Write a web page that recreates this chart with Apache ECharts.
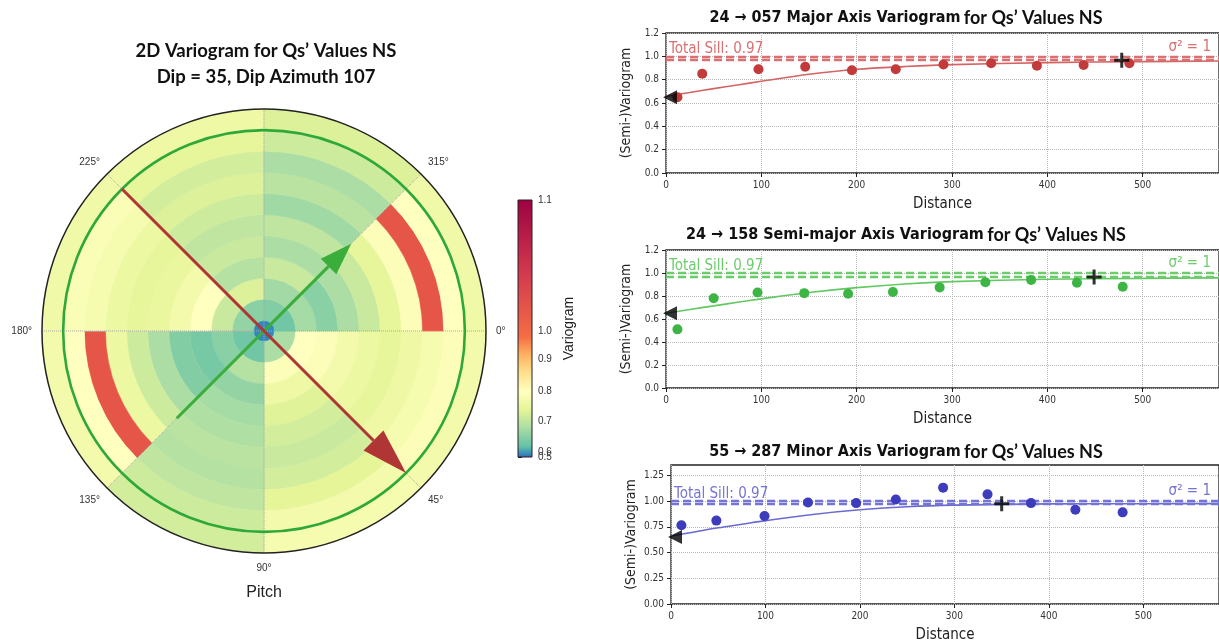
<!DOCTYPE html>
<html><head><meta charset="utf-8">
<script src="https://cdn.jsdelivr.net/npm/echarts@6/dist/echarts.min.js"></script>
<style>html,body{margin:0;padding:0;background:#fff}#c{width:1219px;height:644px}</style>
</head><body><div id="c"></div>
<script>
// ---------------- 2D variogram map (polar) ----------------
const sectorEdges = [0, 45, 90, 135, 180, 225, 270, 315, 360];
const lagEdges = [0, 24, 72, 120, 168, 216, 264, 312, 360, 408, 456, 504];
const gamma_000_045 = [0.56, 0.68, 0.80, 0.79, 0.77, 0.755, 0.745, 0.76, 0.775, 0.79, 0.77];
const gamma_045_090 = [0.56, 0.68, 0.79, 0.76, 0.735, 0.72, 0.71, 0.72, 0.74, 0.77, 0.775];
const gamma_090_135 = [0.56, 0.63, 0.69, 0.66, 0.675, 0.685, 0.695, 0.69, 0.70, 0.715, 0.72];
const gamma_135_180 = [0.56, 0.63, 0.65, 0.635, 0.645, 0.68, 0.715, 0.755, 1.01, 0.80, 0.77];
const gamma_180_225 = [0.56, 0.66, 0.71, 0.80, 0.77, 0.75, 0.745, 0.755, 0.775, 0.785, 0.765];
const gamma_225_270 = [0.56, 0.65, 0.73, 0.69, 0.71, 0.70, 0.715, 0.73, 0.72, 0.745, 0.76];
const gamma_270_315 = [0.56, 0.645, 0.672, 0.71, 0.68, 0.70, 0.67, 0.695, 0.68, 0.715, 0.73];
const gamma_315_360 = [0.56, 0.63, 0.675, 0.65, 0.68, 0.71, 0.745, 0.79, 1.01, 0.80, 0.765];
const angleLabelValues = [0, 45, 90, 135, 180, 225, 315];
const rangeCircle = 456;
const majorArrow = [456, 225, 456, 45];   // tail r, tail angle, head r, head angle
const semiArrow = [280, 135, 280, 315];

// colour bar
const spectralR = ['#5e4fa2','#3288bd','#66c2a5','#abdda4','#e6f598','#ffffbf','#fee08b','#fdae61','#f46d43','#d53e4f','#9e0142'];
const cbMin = 0.5, cbMax = 1.1;
const cbTickValues = [0.5, 0.6, 0.7, 0.8, 0.9, 1.0, 1.1];
const cbTickPos = [0, 0.02, 0.14, 0.255, 0.38, 0.49, 1.0];

// ---------------- directional variograms ----------------
const totalSill = 0.97;
const sigma2 = 1;
const nugget = 0.65;
const modelDist = [0, 25, 50, 75, 100, 150, 200, 250, 300, 400, 500, 580];

const majorLag   = [12, 38, 97, 146, 195, 241, 291, 341, 389, 438, 486];
const majorGamma = [0.65, 0.85, 0.89, 0.91, 0.88, 0.89, 0.93, 0.94, 0.92, 0.925, 0.94];
const majorModel = [0.655, 0.69, 0.723, 0.755, 0.786, 0.846, 0.889, 0.912, 0.929, 0.946, 0.955, 0.96];
const majorRange = [478, 0.966];

const semiLag   = [12, 50, 96, 145, 191, 238, 287, 335, 383, 431, 479];
const semiGamma = [0.51, 0.78, 0.83, 0.825, 0.82, 0.835, 0.875, 0.92, 0.94, 0.915, 0.88];
const semiModel = [0.65, 0.683, 0.714, 0.745, 0.775, 0.83, 0.873, 0.905, 0.925, 0.946, 0.953, 0.958];
const semiRange = [449, 0.965];

const minorLag   = [11, 48, 99, 145, 196, 238, 288, 335, 381, 428, 478];
const minorGamma = [0.765, 0.81, 0.855, 0.985, 0.98, 1.015, 1.13, 1.065, 0.98, 0.915, 0.89];
const minorModel = [0.66, 0.70, 0.74, 0.775, 0.81, 0.87, 0.915, 0.945, 0.96, 0.972, 0.974, 0.975];
const minorRange = [350, 0.974];

const xTickValues = [0, 100, 200, 300, 400, 500];
const yTicksA = [0, 0.2, 0.4, 0.6, 0.8, 1.0, 1.2];
const yTicksB = [0, 0.25, 0.5, 0.75, 1.0, 1.25];
const plotTitles = ['24 \u2192 057 Major Axis Variogram', '24 \u2192 158 Semi-major Axis Variogram', '55 \u2192 287 Minor Axis Variogram'];
const titleSuffix = 'for Qs\u2019 Values NS';
const mapTitle = ['2D Variogram for Qs\u2019 Values NS', 'Dip = 35, Dip Azimuth 107'];

// ---------------- build ----------------
const NARROW = "'Liberation Sans Narrow','DejaVu Sans Condensed',sans-serif";
const ARIAL = "'Liberation Sans',Arial,sans-serif";
const CAL = "Lato,'Open Sans',sans-serif";

const sectorValues = [gamma_000_045, gamma_045_090, gamma_090_135, gamma_135_180, gamma_180_225, gamma_225_270, gamma_270_315, gamma_315_360];
const heatData = [];
sectorValues.forEach((vals, s) => vals.forEach((v, k) => heatData.push([lagEdges[k], sectorEdges[s], lagEdges[k + 1], sectorEdges[s + 1], v])));

function polarSector(params, api) {
  const r0 = api.value(0), a0 = api.value(1), r1 = api.value(2), a1 = api.value(3);
  const c = api.coord([0, a0]);
  const ps = api.coord([r1, a0]);
  const pe = api.coord([r1, a1]);
  const pr0 = api.coord([r0, a0]);
  const R = Math.hypot(ps[0] - c[0], ps[1] - c[1]);
  const R0 = Math.hypot(pr0[0] - c[0], pr0[1] - c[1]);
  let s = Math.atan2(ps[1] - c[1], ps[0] - c[0]);
  let e = Math.atan2(pe[1] - c[1], pe[0] - c[0]);
  while (e <= s + 1e-6) e += Math.PI * 2;
  const col = api.visual('color');
  return { type: 'sector', shape: { cx: c[0], cy: c[1], r0: R0, r: R, startAngle: s, endAngle: e, clockwise: true },
           style: { fill: col, stroke: col, lineWidth: 0.6 } };
}

function arrowItem(color, lw, hl, hw) {
  return function (params, api) {
    const p1 = api.coord([api.value(0), api.value(1)]);
    const p2 = api.coord([api.value(2), api.value(3)]);
    const dx = p2[0] - p1[0], dy = p2[1] - p1[1];
    const L = Math.hypot(dx, dy), ux = dx / L, uy = dy / L;
    const bx = p2[0] - ux * hl, by = p2[1] - uy * hl;
    const nx = -uy, ny = ux;
    return { type: 'group', children: [
      { type: 'line', shape: { x1: p1[0], y1: p1[1], x2: bx, y2: by }, style: { stroke: color, lineWidth: lw } },
      { type: 'polygon', shape: { points: [[p2[0], p2[1]], [bx + nx * hw / 2, by + ny * hw / 2], [bx - nx * hw / 2, by - ny * hw / 2]] }, style: { fill: color } }
    ]};
  };
}

function cbNorm(v) {
  for (let i = 0; i < cbTickValues.length - 1; i++) {
    if (v <= cbTickValues[i + 1] + 1e-9) {
      const f = (v - cbTickValues[i]) / (cbTickValues[i + 1] - cbTickValues[i]);
      return cbTickPos[i] + f * (cbTickPos[i + 1] - cbTickPos[i]);
    }
  }
  return 1;
}
const cbStops = spectralR.map((c, k) => ({ offset: cbNorm(cbMin + (cbMax - cbMin) * k / (spectralR.length - 1)), color: c }));
function cbLabel(v) { let b = 0; cbTickPos.forEach((q, k) => { if (Math.abs(q - v) < Math.abs(cbTickPos[b] - v)) b = k; }); return cbTickValues[b].toFixed(1); }

const plots = [
  { lag: majorLag, gamma: majorGamma, model: majorModel, rng: majorRange, pt: '#c23a3a', ln: '#d46464', dash: '#da7072',
    grid: { left: 666, top: 33, width: 557, height: 140 }, ymax: 1.2, yint: 0.2, yt: yTicksA, dec: 1, xmax: 580 },
  { lag: semiLag, gamma: semiGamma, model: semiModel, rng: semiRange, pt: '#3db544', ln: '#62c862', dash: '#6ccc6c',
    grid: { left: 666, top: 250, width: 557, height: 138 }, ymax: 1.2, yint: 0.2, yt: yTicksA, dec: 1, xmax: 580 },
  { lag: minorLag, gamma: minorGamma, model: minorModel, rng: minorRange, pt: '#3c3cbc', ln: '#6a6ad2', dash: '#7474d4',
    grid: { left: 671, top: 465, width: 555, height: 141 }, ymax: 1.35, yint: 0.25, yt: yTicksB, dec: 2, xmax: 580 }
];

const grids = [], xAxes = [], yAxes = [], series = [];

// polar heat map
series.push({ type: 'custom', coordinateSystem: 'polar', z: 2, renderItem: polarSector, data: heatData, animation: false,
  encode: { radius: 0, angle: 1 } });
series.push({ type: 'custom', coordinateSystem: 'polar', z: 12, data: [[rangeCircle, 0]], animation: false, silent: true,
  renderItem: function (params, api) {
    const c = api.coord([0, 0]); const p = api.coord([api.value(0), 0]);
    return { type: 'circle', shape: { cx: c[0], cy: c[1], r: Math.hypot(p[0] - c[0], p[1] - c[1]) }, style: { fill: 'none', stroke: '#2fa83a', lineWidth: 2.6 } };
  } });
series.push({ type: 'custom', coordinateSystem: 'polar', z: 14, data: [semiArrow], animation: false, silent: true, renderItem: arrowItem('#3aad3a', 3, 32, 22) });
series.push({ type: 'custom', coordinateSystem: 'polar', z: 15, data: [majorArrow], animation: false, silent: true, renderItem: arrowItem('#b03535', 3, 46, 28) });

plots.forEach((p, i) => {
  grids.push(Object.assign({ show: true, borderColor: '#222', borderWidth: 1.3, backgroundColor: 'rgba(0,0,0,0)' }, p.grid));
  xAxes.push({ gridIndex: i, type: 'value', min: 0, max: p.xmax, interval: 100,
    axisLine: { show: false },
    axisTick: { show: true, length: 4, lineStyle: { color: '#222' }, customValues: xTickValues },
    axisLabel: { fontSize: 10, color: '#333', margin: 7, fontFamily: NARROW, customValues: xTickValues,
      formatter: v => xTickValues.indexOf(v) >= 0 ? String(v) : '' },
    splitLine: { show: true, lineStyle: { color: '#b8b8b8', type: 'dotted', width: 1 } },
    name: 'Distance', nameLocation: 'middle', nameGap: 24, nameTextStyle: { fontSize: 15, color: '#222', fontFamily: NARROW } });
  yAxes.push({ gridIndex: i, type: 'value', min: 0, max: p.ymax, interval: p.yint,
    axisLine: { show: false },
    axisTick: { show: true, length: 4, lineStyle: { color: '#222' }, customValues: p.yt },
    axisLabel: { fontSize: 10, color: '#333', margin: 7, fontFamily: NARROW, customValues: p.yt, showMaxLabel: true, hideOverlap: false,
      formatter: v => v.toFixed(p.dec) },
    splitLine: { show: true, lineStyle: { color: '#b8b8b8', type: 'dotted', width: 1 } },
    name: '(Semi-)Variogram', nameLocation: 'middle', nameGap: 33, nameRotate: 90,
    nameTextStyle: { fontSize: 14, color: '#222', fontFamily: NARROW } });
  // sill lines with labels
  series.push({ type: 'line', xAxisIndex: i, yAxisIndex: i, data: [], z: 3, silent: true,
    markLine: { symbol: 'none', silent: true, animation: false,
      lineStyle: { color: p.dash, type: [8, 4], width: 2.4 },
      data: [
        { yAxis: totalSill, label: { show: true, position: 'insideStartTop', formatter: 'Total Sill: ' + totalSill, color: p.dash, fontSize: 15, fontFamily: NARROW, distance: [3, 3] } },
        { yAxis: sigma2, label: { show: true, position: 'insideEndTop', formatter: '\u03c3\u00b2 = ' + sigma2, color: p.dash, fontSize: 15, fontFamily: NARROW, distance: [8, 2] } }
      ] } });
  // model curve
  series.push({ type: 'line', xAxisIndex: i, yAxisIndex: i, smooth: 0.35, showSymbol: false, z: 4, animation: false,
    data: modelDist.map((d, k) => [d, p.model[k]]), lineStyle: { color: p.ln, width: 1.6 } });
  // experimental points
  series.push({ type: 'scatter', xAxisIndex: i, yAxisIndex: i, symbolSize: 10, z: 5, animation: false,
    data: p.lag.map((d, k) => [d, p.gamma[k]]), itemStyle: { color: p.pt, opacity: 1 } });
  // nugget marker
  series.push({ type: 'scatter', xAxisIndex: i, yAxisIndex: i, symbol: 'triangle', symbolRotate: 90, symbolSize: 14,
    symbolOffset: [4, 0], z: 6, animation: false, data: [[0, nugget]], itemStyle: { color: '#000' } });
  // range marker
  series.push({ type: 'scatter', xAxisIndex: i, yAxisIndex: i, symbol: 'path://M-1,-5h2v4h4v2h-4v4h-2v-4h-4v-2h4z', symbolSize: 15,
    z: 7, animation: false, data: [p.rng], itemStyle: { color: '#000' } });
});

// colour bar grid (index 3) and a twin grid (index 4) carrying the crowded 0.6 label
const cbRect = { left: 518, top: 200, width: 14, height: 257, show: false };
grids.push(Object.assign({}, cbRect));
grids.push(Object.assign({}, cbRect));
xAxes.push({ gridIndex: 3, type: 'value', min: 0, max: 1, show: false });
xAxes.push({ gridIndex: 4, type: 'value', min: 0, max: 1, show: false });
const cbMainPos = cbTickPos.filter((q, k) => k !== 1);
yAxes.push({ gridIndex: 3, type: 'value', min: 0, max: 1, position: 'right',
  axisLine: { show: false }, splitLine: { show: false },
  axisTick: { show: true, length: 4, lineStyle: { color: '#222' }, customValues: cbMainPos },
  axisLabel: { fontSize: 10, color: '#333', margin: 6, fontFamily: ARIAL, customValues: cbMainPos, hideOverlap: false, showMinLabel: true, showMaxLabel: true,
    formatter: cbLabel },
  name: 'Variogram', nameLocation: 'middle', nameGap: 30, nameRotate: 90, nameTextStyle: { fontSize: 14, color: '#222', fontFamily: ARIAL } });
yAxes.push({ gridIndex: 4, type: 'value', min: 0, max: 1, position: 'right',
  axisLine: { show: false }, splitLine: { show: false },
  axisTick: { show: true, length: 4, lineStyle: { color: '#222' }, customValues: [cbTickPos[1]] },
  axisLabel: { fontSize: 10, color: '#333', margin: 6, fontFamily: ARIAL, customValues: [cbTickPos[1]], formatter: cbLabel } });
series.push({ type: 'custom', xAxisIndex: 3, yAxisIndex: 3, data: [[0, 0, 1, 1]], animation: false, silent: true,
  renderItem: function (params, api) {
    const a = api.coord([api.value(0), api.value(1)]); const b = api.coord([api.value(2), api.value(3)]);
    return { type: 'rect', shape: { x: a[0], y: b[1], width: b[0] - a[0], height: a[1] - b[1] },
      style: { fill: new echarts.graphic.LinearGradient(0, 1, 0, 0, cbStops), stroke: '#222', lineWidth: 1 } };
  } });

const graphics = [
  { type: 'text', x: 266, y: 51, style: { text: mapTitle[0], align: 'center', verticalAlign: 'middle', font: 'bold 18.5px ' + CAL, fill: '#111' } },
  { type: 'text', x: 266, y: 77, style: { text: mapTitle[1], align: 'center', verticalAlign: 'middle', font: 'bold 18.5px ' + CAL, fill: '#111' } },
  { type: 'text', x: 264, y: 593, style: { text: 'Pitch', align: 'center', verticalAlign: 'middle', font: '16px ' + ARIAL, fill: '#222' } }
];
const titleY = [18, 235, 452];
plotTitles.forEach((t, i) => graphics.push({ type: 'text', x: 906, y: titleY[i], style: {
  text: '{a|' + t + '} {b|' + titleSuffix + '}', align: 'center', verticalAlign: 'middle',
  rich: { a: { fontSize: 16, fontWeight: 'bold', fontFamily: NARROW, fill: '#111' }, b: { fontSize: 18, fontWeight: 'bold', fontFamily: CAL, fill: '#111' } } } }));

const option = {
  animation: false,
  backgroundColor: '#fff',
  polar: { center: [264, 331], radius: [0, 222] },
  angleAxis: { type: 'value', min: 0, max: 360, interval: 45, startAngle: 0, clockwise: true, z: 10,
    axisLine: { show: true, lineStyle: { color: '#222', width: 1.5 } },
    axisTick: { show: false },
    axisLabel: { margin: 10, fontSize: 10, color: '#333', fontFamily: ARIAL, formatter: v => angleLabelValues.indexOf(v) >= 0 ? v + '\u00b0' : '' },
    splitLine: { show: true, lineStyle: { color: '#a8a8a8', type: 'dotted', width: 1 } } },
  radiusAxis: { type: 'value', min: 0, max: 504, axisLine: { show: false }, axisTick: { show: false }, axisLabel: { show: false }, splitLine: { show: false } },
  visualMap: { type: 'continuous', show: false, min: cbMin, max: cbMax, dimension: 4, seriesIndex: 0, inRange: { color: spectralR } },
  grid: grids, xAxis: xAxes, yAxis: yAxes, series: series, graphic: graphics
};
const chart = echarts.init(document.getElementById('c'), null, { renderer: 'canvas', width: 1219, height: 644 });
chart.setOption(option);
</script></body></html>
